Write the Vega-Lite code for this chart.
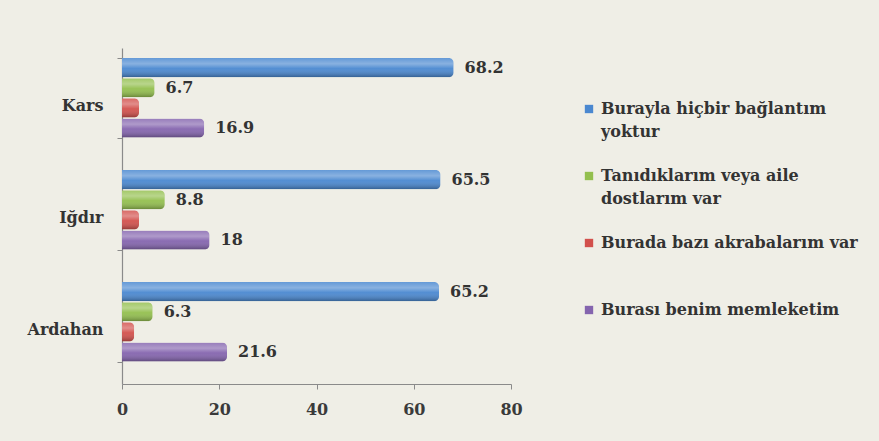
{
  "$schema": "https://vega.github.io/schema/vega-lite/v6.json",
  "width": 389,
  "height": 336,
  "autosize": {"type": "none"},
  "padding": {"left": 122, "top": 48, "right": 368, "bottom": 57},
  "background": "#efeee6",
  "config": {
    "view": {"stroke": null},
    "font": "DejaVu Serif"
  },
  "data": {
    "values": [
      {"city": "Kars", "series": "Burayla hiçbir bağlantım yoktur", "value": 68.2, "label": "68.2"},
      {"city": "Kars", "series": "Tanıdıklarım veya aile dostlarım var", "value": 6.7, "label": "6.7"},
      {"city": "Kars", "series": "Burada bazı akrabalarım var", "value": 3.5, "label": ""},
      {"city": "Kars", "series": "Burası benim memleketim", "value": 16.9, "label": "16.9"},
      {"city": "Iğdır", "series": "Burayla hiçbir bağlantım yoktur", "value": 65.5, "label": "65.5"},
      {"city": "Iğdır", "series": "Tanıdıklarım veya aile dostlarım var", "value": 8.8, "label": "8.8"},
      {"city": "Iğdır", "series": "Burada bazı akrabalarım var", "value": 3.5, "label": ""},
      {"city": "Iğdır", "series": "Burası benim memleketim", "value": 18, "label": "18"},
      {"city": "Ardahan", "series": "Burayla hiçbir bağlantım yoktur", "value": 65.2, "label": "65.2"},
      {"city": "Ardahan", "series": "Tanıdıklarım veya aile dostlarım var", "value": 6.3, "label": "6.3"},
      {"city": "Ardahan", "series": "Burada bazı akrabalarım var", "value": 2.5, "label": ""},
      {"city": "Ardahan", "series": "Burası benim memleketim", "value": 21.6, "label": "21.6"}
    ]
  },
  "encoding": {
    "y": {
      "field": "city", "type": "nominal", "sort": ["Kars", "Iğdır", "Ardahan"],
      "scale": {"paddingInner": 0.29, "paddingOuter": 0.145, "align": 0.31},
      "axis": {
        "title": null, "domainColor": "#8a8a8a", "domainWidth": 1.2, "tickColor": "#8a8a8a",
        "tickBand": "extent", "tickSize": 5, "labelFont": "DejaVu Serif",
        "labelFontSize": 16, "labelFontWeight": "bold", "labelColor": "#333333",
        "labelPadding": 14, "labelOffset": 8
      }
    },
    "yOffset": {
      "field": "series", "type": "nominal",
      "sort": ["Burayla hiçbir bağlantım yoktur", "Tanıdıklarım veya aile dostlarım var", "Burada bazı akrabalarım var", "Burası benim memleketim"],
      "scale": {"paddingInner": 0.05, "paddingOuter": 0}
    },
    "x": {
      "field": "value", "type": "quantitative",
      "scale": {"domain": [0, 80], "nice": false},
      "axis": {
        "title": null, "values": [0, 20, 40, 60, 80], "grid": false, "labelFlush": false,
        "domainColor": "#8a8a8a", "domainWidth": 1.2, "tickColor": "#8a8a8a", "tickSize": 5,
        "labelFont": "DejaVu Serif", "labelFontSize": 16, "labelFontWeight": "bold",
        "labelColor": "#3a3a3a", "labelPadding": 12
      }
    }
  },
  "layer": [
    {
      "mark": {"type": "bar", "cornerRadiusEnd": 5},
      "encoding": {
        "color": {
          "field": "series", "type": "nominal",
          "sort": ["Burayla hiçbir bağlantım yoktur", "Tanıdıklarım veya aile dostlarım var", "Burada bazı akrabalarım var", "Burası benim memleketim"],
          "scale": {"range": ["#4a88d0", "#93bf4e", "#d2504c", "#8464ae"]},
          "legend": {
            "title": null, "orient": "none", "legendX": 459, "legendY": 53,
            "symbolType": "square", "symbolSize": 70, "symbolStrokeWidth": 0,
            "labelFont": "DejaVu Serif", "labelFontSize": 16, "labelFontWeight": "bold",
            "labelColor": "#333333", "labelLimit": 400, "labelOffset": 4, "rowPadding": 28,
            "padding": 0,
            "encode": {"labels": {"update": {"lineHeight": {"value": 23}}}},
            "labelExpr": "datum.label == 'Burayla hiçbir bağlantım yoktur' ? ['Burayla hiçbir bağlantım', 'yoktur'] : datum.label == 'Tanıdıklarım veya aile dostlarım var' ? ['Tanıdıklarım veya aile', 'dostlarım var'] : datum.label == 'Burada bazı akrabalarım var' ? ['Burada bazı akrabalarım var', ' '] : datum.label"
          }
        }
      }
    },
    {
      "mark": {
        "type": "bar", "cornerRadiusEnd": 5,
        "fill": {
          "gradient": "linear", "x1": 0, "y1": 0, "x2": 0, "y2": 1,
          "stops": [
            {"offset": 0, "color": "rgba(255,255,255,0.15)"},
            {"offset": 0.3, "color": "rgba(255,255,255,0.35)"},
            {"offset": 0.55, "color": "rgba(255,255,255,0.05)"},
            {"offset": 1, "color": "rgba(0,0,0,0.3)"}
          ]
        }
      }
    },
    {
      "mark": {"type": "text", "align": "left", "baseline": "middle", "dx": 11, "fontSize": 16, "fontWeight": "bold", "color": "#333333", "font": "DejaVu Serif"},
      "encoding": {"text": {"field": "label"}}
    }
  ]
}
